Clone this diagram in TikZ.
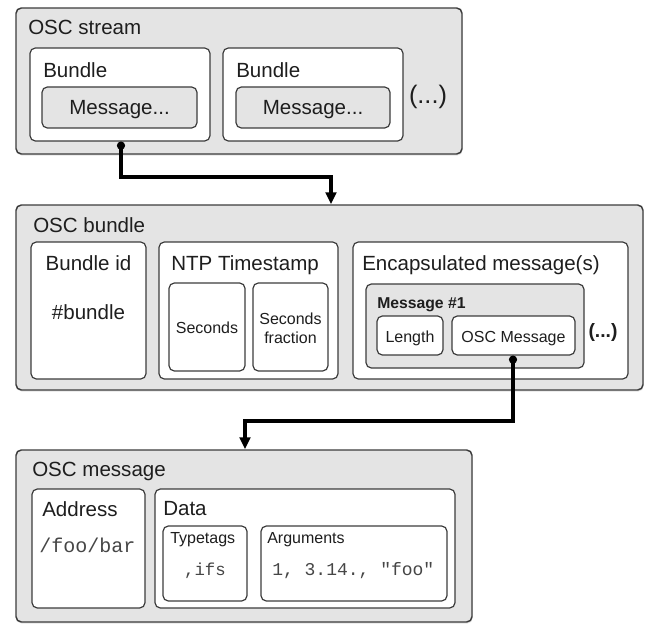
\documentclass[tikz,border=0pt]{standalone}
\usepackage{fontspec}
\setmainfont{Liberation Sans}
\setmonofont{Liberation Mono}
\usetikzlibrary{fit,shadows,arrows.meta}

\definecolor{panelgray}{HTML}{E4E4E4}
\definecolor{edgegray}{HTML}{3C3C3C}
\definecolor{inkgray}{HTML}{1E1E1E}

\tikzset{
  panel/.style={draw=edgegray, line width=1.1pt, fill=panelgray, rounded corners=4pt,
    inner sep=0pt, drop shadow={opacity=0.22, shadow xshift=0.4pt, shadow yshift=-1.2pt}},
  field/.style={draw=edgegray, line width=0.9pt, fill=white, rounded corners=4pt, inner sep=0pt},
  subpanel/.style={field, fill=panelgray},
  bigtext/.style={inner sep=0pt, text=inkgray, font=\fontsize{15.4}{18}\selectfont},
  smalltext/.style={inner sep=0pt, text=inkgray, font=\fontsize{12}{14.25}\selectfont},
  boldtext/.style={inner sep=0pt, text=inkgray, font=\fontsize{11.8}{14}\selectfont\bfseries},
  monotext/.style={inner sep=0pt, text=inkgray!82, font=\fontsize{15}{18}\ttfamily},
  conn/.style={line width=2.3pt, black, {Circle[length=6pt]}-{Triangle[length=9pt,width=8pt]}},
}

\begin{document}
\begin{tikzpicture}[x=0.75pt, y=-0.75pt]
\useasboundingbox (0,0) rectangle (645,624);

% ---------- OSC stream ----------
\node[panel, fit={(16,8) (462,154)}] (stream) {};
\node[bigtext, anchor=base west] (streamT) at (28,35) {OSC stream};

\node[field, fit={(30,48) (210,141)}] (bundleA) {};
\node[bigtext, anchor=base west] (bundleAT) at (43,78) {Bundle};
\node[subpanel, fit={(42,87) (197,128)}] (msgA) {};
\node[bigtext, anchor=base] (msgAT) at (119.5,115) {Message...};

\node[field, fit={(223,48) (403,141)}] (bundleB) {};
\node[bigtext, anchor=base west] (bundleBT) at (236,78) {Bundle};
\node[subpanel, fit={(236,87) (390,128)}] (msgB) {};
\node[bigtext, anchor=base] (msgBT) at (313,115) {Message...};

\node[bigtext, font=\fontsize{19}{22}\selectfont] (moreA) at (428,97) {(...)};

% ---------- OSC bundle ----------
\node[panel, fit={(16,205) (643,390)}] (bundle) {};
\node[bigtext, anchor=base west] (bundleT) at (33,232) {OSC bundle};

\node[field, fit={(31,242) (146,379)}] (bid) {};
\node[bigtext, anchor=base] (bidT) at (88.5,270) {Bundle id};
\node[bigtext, anchor=base] (bidV) at (88.5,319) {\#bundle};

\node[field, fit={(159,242) (338,379)}] (ntp) {};
\node[bigtext, anchor=base west] (ntpT) at (171,270) {NTP Timestamp};
\node[field, fit={(169,283) (245,371)}] (sec) {};
\node[smalltext, anchor=base] (secT) at (207,333) {Seconds};
\node[field, fit={(253,283) (328,371)}] (frac) {};
\node[smalltext, anchor=base, align=center] (fracT) at (290.5,343) {Seconds\\fraction};

\node[field, fit={(353,242) (628,379)}] (encap) {};
\node[bigtext, anchor=base west] (encapT) at (362,270) {Encapsulated message(s)};
\node[subpanel, fit={(366,284) (584,368)}] (msgone) {};
\node[boldtext, anchor=base west] (msgoneT) at (377,308) {Message \#1};
\node[field, fit={(377,316) (443,355)}] (len) {};
\node[smalltext, anchor=base] (lenT) at (410,342) {Length};
\node[field, fit={(452,316) (575,355)}] (oscmsg) {};
\node[smalltext, anchor=base] (oscmsgT) at (513.5,342) {OSC Message};
\node[bigtext, font=\fontsize{14.5}{17}\selectfont\bfseries] (moreB) at (603,332) {(...)};

% ---------- OSC message ----------
\node[panel, fit={(16,450) (472,622)}] (message) {};
\node[bigtext, anchor=base west] (messageT) at (32,476) {OSC message};

\node[field, fit={(32,489) (145,608)}] (addr) {};
\node[bigtext, anchor=base west] (addrT) at (42,516) {Address};
\node[monotext, anchor=base west] (addrV) at (39,552) {/foo/bar};

\node[field, fit={(155,489) (455,608)}] (data) {};
\node[bigtext, anchor=base west] (dataT) at (163,515) {Data};
\node[field, fit={(163,526) (247,601)}] (tags) {};
\node[smalltext, anchor=base west] (tagsT) at (170,543) {Typetags};
\node[monotext, font=\fontsize{13}{15}\ttfamily, anchor=base] (tagsV) at (205,575) {,ifs};
\node[field, fit={(261,526) (447,601)}] (args) {};
\node[smalltext, anchor=base west] (argsT) at (267,543) {Arguments};
\node[monotext, font=\fontsize{13.5}{15}\ttfamily, anchor=base west] (argsV) at (272,575) {1, 3.14., "foo"};

% ---------- connectors ----------
\coordinate (c1) at (121,177);
\coordinate (c2) at (331,177);
\draw[conn] (c1 |- bundleA.south) -- (c1) -- (c2) -- (c2 |- bundle.north);

\coordinate (c3) at (513,421);
\coordinate (c4) at (245,421);
\draw[conn] (c3 |- oscmsg.south) -- (c3) -- (c4) -- (c4 |- message.north);
\end{tikzpicture}
\end{document}
